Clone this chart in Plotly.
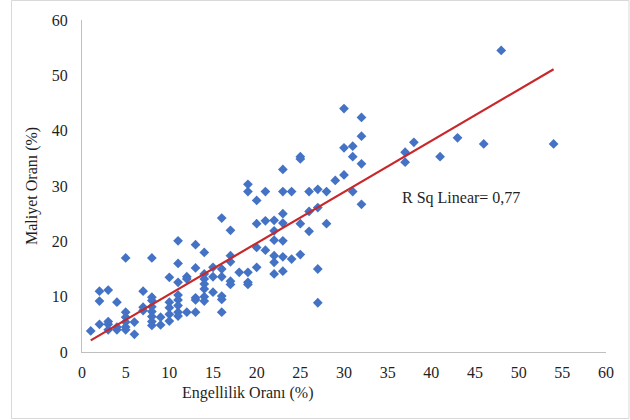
import plotly.graph_objects as go

# Engellilik Oranı (%) values, grouped by x
disability = (
    [1] + [2]*3 + [3]*4 + [4]*3 + [5]*6 + [6]*2 + [7]*3 + [8]*8 + [9]*2 + [10]*5
    + [11]*8 + [12]*3 + [13]*5 + [14]*7 + [15]*3 + [16]*6 + [17]*5 + [18]
    + [19]*5 + [20]*4 + [21]*3 + [22]*6 + [23]*7 + [24]*2 + [25]*4 + [26]*3
    + [27]*4 + [28]*2 + [29] + [30]*3 + [31]*3 + [32]*4 + [37]*2 + [38] + [41]
    + [43] + [46] + [48] + [54]
)
cost = [
    3.8,
    11.0, 9.2, 5.0,
    11.2, 5.5, 5.0, 4.0,
    9.0, 4.5, 4.0,
    17.0, 7.2, 6.3, 5.4, 4.5, 4.0,
    5.4, 3.2,
    11.0, 8.1, 7.5,
    17.0, 9.9, 9.3, 8.2, 7.3, 6.4, 5.5, 4.8,
    6.3, 4.9,
    13.5, 9.0, 8.0, 6.8, 5.6,
    20.1, 16.0, 12.6, 10.3, 9.4, 8.4, 7.2, 6.5,
    13.6, 13.2, 7.2,
    19.4, 15.2, 9.8, 9.4, 7.2,
    18.0, 14.1, 13.2, 12.3, 11.4, 10.0, 9.2,
    15.3, 13.6, 10.8,
    24.2, 15.0, 13.6, 10.1, 9.5, 7.2,
    22.0, 17.4, 16.3, 12.8, 12.2,
    14.4,
    30.3, 29.0, 14.4, 12.6, 12.2,
    27.4, 23.2, 18.9, 15.3,
    29.0, 23.7, 18.4,
    23.8, 21.9, 20.2, 17.4, 16.2, 14.1,
    33.0, 29.0, 25.0, 23.3, 20.1, 17.2, 14.6,
    29.0, 16.8,
    35.3, 34.9, 23.2, 17.6,
    29.0, 25.4, 21.8,
    29.4, 26.1, 15.0, 8.9,
    29.0, 23.2,
    31.0,
    44.0, 36.9, 32.0,
    37.2, 35.3, 29.0,
    42.4, 39.0, 34.0, 26.7,
    36.1, 34.3,
    37.9,
    35.3,
    38.7,
    37.6,
    54.5,
    37.6,
]

# Fitted linear line endpoints
fit_x = [1, 54]
fit_y = [2.1, 51.1]

x_ticks = list(range(0, 61, 5))
y_ticks = list(range(0, 61, 10))

FONT = "Liberation Serif"

fig = go.Figure()
fig.add_trace(go.Scatter(
    x=disability, y=cost, mode="markers",
    marker=dict(symbol="diamond", size=7.5, color="#4472C4", line=dict(width=0)),
    showlegend=False, hoverinfo="x+y",
))
fig.add_trace(go.Scatter(
    x=fit_x, y=fit_y, mode="lines",
    line=dict(color="#C8282A", width=2.2),
    showlegend=False,
))

fig.update_layout(
    width=630, height=420,
    margin=dict(l=82, r=24, t=20, b=68),
    paper_bgcolor="white", plot_bgcolor="white",
    font=dict(family=FONT, size=16, color="#1f1f1f"),
    xaxis=dict(
        range=[0, 60], tickvals=x_ticks, ticktext=[str(v) for v in x_ticks],
        showgrid=False, zeroline=False, showline=True, linecolor="#BFBFBF",
        linewidth=1, ticks="", ticklabelstandoff=6, fixedrange=True,
    ),
    yaxis=dict(
        range=[0, 60], tickvals=y_ticks, ticktext=[str(v) for v in y_ticks],
        showgrid=False, zeroline=False, showline=True, linecolor="#BFBFBF",
        linewidth=1, ticks="", ticklabelstandoff=10, fixedrange=True,
    ),
    annotations=[
        dict(text="Engellilik Oranı (%)", xref="paper", yref="paper",
             x=(248 - 82) / 524, y=(352 - 393) / 332, showarrow=False,
             xanchor="center", yanchor="middle", font=dict(size=16)),
        dict(text="Maliyet Oranı (%)", xref="paper", yref="paper",
             x=(32 - 82) / 524, y=0.5, showarrow=False, textangle=-90,
             xanchor="center", yanchor="middle", font=dict(size=16)),
        dict(text="R Sq Linear= 0,77", xref="paper", yref="paper",
             x=(400 - 82) / 524, y=(352 - 198) / 332, showarrow=False,
             xanchor="left", yanchor="middle", font=dict(size=16)),
    ],
    shapes=[
        dict(type="rect", xref="paper", yref="paper",
             x0=(11.5 - 82) / 524, x1=(629 - 82) / 524,
             y0=(352 - 418.5) / 332, y1=(352 - 0.5) / 332,
             line=dict(color="#D9D9D9", width=1), fillcolor="rgba(0,0,0,0)",
             layer="below"),
    ],
)

fig.write_html("out.html")
